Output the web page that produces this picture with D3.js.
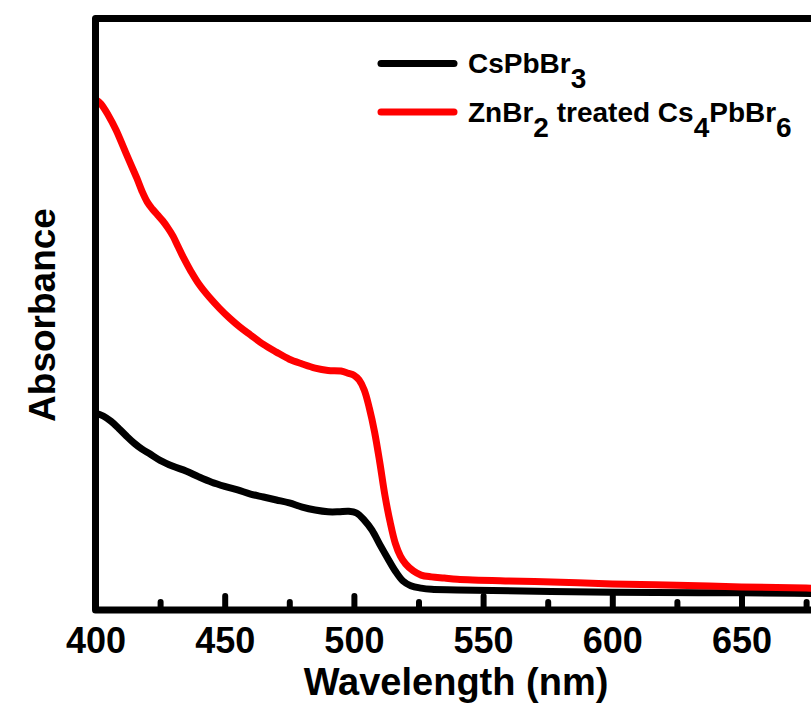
<!DOCTYPE html>
<html lang="en">
<head>
  <meta charset="UTF-8">
  <title>Absorbance spectra</title>
  <script src="https://d3js.org/d3.v7.min.js"></script>
  <style>
    body {
      margin: 0;
      overflow: hidden;
      background: #fff;
    }
    svg {
      display: block;
    }
    text {
      font-family: "Liberation Sans", Arial, sans-serif;
      font-weight: bold;
    }
  </style>
</head>
<body>
  <svg id="chart"></svg>

  <script>
    // wavelength (nm) and absorbance (a.u.)
    const cspbbr3Wl = [400, 403, 406, 409, 412, 415, 418, 421, 425, 430, 435, 440, 445, 450, 455, 460, 465, 470, 475, 480, 485, 490, 494, 498, 501, 504, 507, 510, 513, 516, 519, 522, 526, 530, 540, 600, 650, 700];
    const cspbbr3Abs = [0.333, 0.328, 0.319, 0.307, 0.294, 0.282, 0.272, 0.264, 0.253, 0.243, 0.235, 0.225, 0.216, 0.209, 0.203, 0.196, 0.191, 0.186, 0.181, 0.174, 0.169, 0.166, 0.166, 0.167, 0.164, 0.152, 0.135, 0.111, 0.088, 0.066, 0.049, 0.041, 0.037, 0.035, 0.034, 0.030, 0.029, 0.027];

    const treatedWl = [400, 402, 405, 408, 410, 413, 416, 418, 420, 422, 424, 426, 428, 430, 432, 434, 437, 440, 444, 448, 452, 456, 460, 465, 470, 475, 480, 485, 490, 495, 498, 500, 502, 504, 506, 508, 510, 512, 514, 516, 518, 520, 523, 526, 530, 535, 540, 560, 580, 600, 625, 650, 675, 700];
    const treatedAbs = [0.863, 0.856, 0.836, 0.811, 0.791, 0.760, 0.730, 0.708, 0.690, 0.678, 0.668, 0.658, 0.646, 0.632, 0.614, 0.596, 0.572, 0.551, 0.529, 0.510, 0.493, 0.478, 0.465, 0.449, 0.436, 0.424, 0.416, 0.409, 0.405, 0.404, 0.400, 0.397, 0.389, 0.372, 0.341, 0.301, 0.250, 0.194, 0.149, 0.113, 0.091, 0.078, 0.066, 0.059, 0.056, 0.054, 0.052, 0.049, 0.047, 0.044, 0.042, 0.039, 0.037, 0.035];

    const majorTicks = [400, 450, 500, 550, 600, 650];
    const minorTicks = [425, 475, 525, 575, 625, 675];

    const width = 811;
    const height = 724;
    const plot = { left: 95.5, right: 870.7, top: 18.5, bottom: 610 };

    const svg = d3.select("#chart")
                  .attr("width", width)
                  .attr("height", height);

    const x = d3.scaleLinear().domain([400, 700]).range([plot.left, plot.right]);
    const y = d3.scaleLinear().domain([0, 1]).range([plot.bottom, plot.top]);

    const line = d3.line()
                   .x(d => x(d[0]))
                   .y(d => y(d[1]))
                   .curve(d3.curveCatmullRom.alpha(0.5));

    // curves
    svg.append("path")
       .datum(d3.zip(cspbbr3Wl, cspbbr3Abs))
       .attr("d", line)
       .attr("fill", "none")
       .attr("stroke", "#000")
       .attr("stroke-width", 7)
       .attr("stroke-linejoin", "round");

    svg.append("path")
       .datum(d3.zip(treatedWl, treatedAbs))
       .attr("d", line)
       .attr("fill", "none")
       .attr("stroke", "#ff0000")
       .attr("stroke-width", 7)
       .attr("stroke-linejoin", "round");

    // minor ticks (inward, no labels)
    const minorAxis = svg.append("g")
       .attr("transform", `translate(0,${plot.bottom})`)
       .call(d3.axisBottom(x).tickValues(minorTicks).tickSize(-8).tickFormat(""));
    minorAxis.select(".domain").remove();

    // major ticks with labels
    const majorAxis = svg.append("g")
       .attr("transform", `translate(0,${plot.bottom})`)
       .call(d3.axisBottom(x).tickValues(majorTicks).tickSize(-14).tickFormat(d3.format("d")));
    majorAxis.select(".domain").remove();

    svg.selectAll(".tick line")
       .attr("stroke", "#000")
       .attr("stroke-width", 6)
       .attr("stroke-linecap", "round");

    majorAxis.selectAll("text")
             .attr("y", 43)
             .attr("dy", 0)
             .attr("fill", "#000")
             .style("font-size", "36px");

    // frame
    svg.append("rect")
       .attr("x", plot.left)
       .attr("y", plot.top)
       .attr("width", plot.right - plot.left)
       .attr("height", plot.bottom - plot.top)
       .attr("fill", "none")
       .attr("stroke", "#000")
       .attr("stroke-width", 7)
       .attr("stroke-linejoin", "round");

    // axis titles
    svg.append("text")
       .attr("x", 456)
       .attr("y", 695)
       .attr("text-anchor", "middle")
       .style("font-size", "38px")
       .text("Wavelength (nm)");

    svg.append("text")
       .attr("transform", "translate(55,315) rotate(-90)")
       .attr("text-anchor", "middle")
       .style("font-size", "37px")
       .text("Absorbance");

    // legend
    const legend = [
      { color: "#000", y: 63.5, parts: [["CsPb", 0], ["Br", 0], ["3", 1]] },
      { color: "#ff0000", y: 112, parts: [["ZnBr", 0], ["2", 1], [" treated Cs", 0], ["4", 1], ["PbBr", 0], ["6", 1]] }
    ];

    legend.forEach(item => {
      svg.append("line")
         .attr("x1", 381).attr("x2", 454)
         .attr("y1", item.y).attr("y2", item.y)
         .attr("stroke", item.color)
         .attr("stroke-width", 7)
         .attr("stroke-linecap", "round");

      const t = svg.append("text")
         .attr("x", 468)
         .attr("y", item.y + 9.8)
         .style("font-size", "28px")
         .attr("xml:space", "preserve");

      let shifted = 0;
      item.parts.forEach(([s, sub]) => {
        const target = sub ? 15 : 0;
        t.append("tspan")
         .attr("dy", target - shifted)
         .text(s);
        shifted = target;
      });
    });
  </script>
</body>
</html>
